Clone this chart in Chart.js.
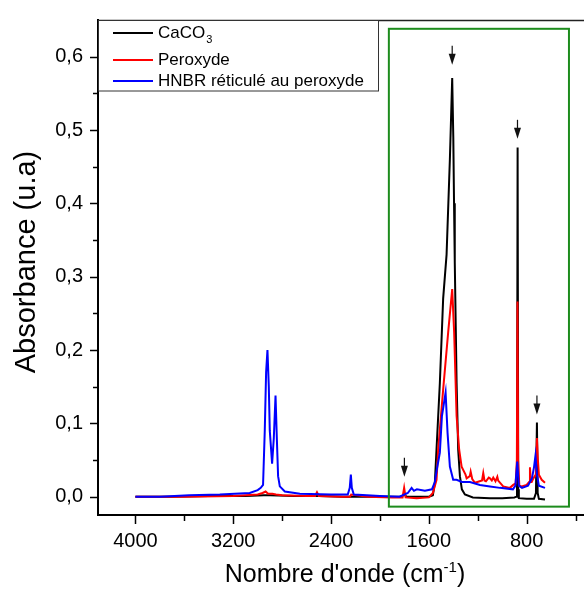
<!DOCTYPE html>
<html>
<head>
<meta charset="utf-8">
<script src="https://cdn.jsdelivr.net/npm/chart.js@4.4.0/dist/chart.umd.min.js"></script>
<style>
  html, body { margin: 0; padding: 0; background: #fff; }
  #wrap { width: 584px; height: 590px; }
</style>
</head>
<body>
<div id="wrap"><canvas id="spectrum" width="584" height="590"></canvas></div>
<script>
// FTIR spectra: wavenumber (cm-1) -> absorbance (u.a)
const seriesNames = ['CaCO3', 'Peroxyde', 'HNBR réticulé au peroxyde'];
const seriesColors = ['#000000', '#ff0000', '#0000ff'];

const caco3Wn = [4000, 3700, 3400, 3100, 2950, 2900, 2700, 2500, 2300, 2100, 1900, 1820, 1802, 1785, 1700, 1600,
  1567, 1551, 1510, 1483, 1455, 1428, 1409, 1400, 1394, 1388, 1373, 1360, 1346, 1330, 1305, 1240, 1100, 1000,
  900, 884, 879, 874, 869, 864, 800, 740, 724, 716, 710, 700, 650];
const caco3Abs = [0.000, 0.000, 0.001, 0.001, 0.002, 0.002, 0.001, 0.001, 0.000, 0.000, 0.000, 0.000, 0.004, 0.000, 0.000, 0.000,
  0.002, 0.019, 0.155, 0.270, 0.330, 0.460, 0.571, 0.490, 0.400, 0.320, 0.155, 0.064, 0.028, 0.010, 0.003, -0.001, -0.002, -0.002,
  -0.001, 0.000, 0.010, 0.476, 0.010, -0.002, -0.003, -0.003, 0.005, 0.101, 0.005, -0.003, -0.004];

const peroxWn = [4000, 3600, 3200, 3000, 2960, 2935, 2915, 2880, 2850, 2800, 2600, 2530, 2515, 2500, 2300, 2245, 2235, 2100,
  1900, 1815, 1802, 1790, 1700, 1600, 1567, 1537, 1524, 1483, 1442, 1409, 1393, 1373, 1352, 1332, 1300, 1291, 1265, 1258,
  1245, 1223, 1165, 1155, 1145, 1133, 1110, 1100, 1085, 1073, 1055, 1040, 1033, 992, 937, 910, 890, 880, 875, 870, 860,
  841, 800, 780, 773, 766, 759, 745, 725, 716, 708, 700, 677, 650];
const peroxAbs = [0.000, 0.000, 0.001, 0.003, 0.005, 0.007, 0.004, 0.004, 0.003, 0.002, 0.001, 0.001, 0.006, 0.001, 0.000, 0.000, 0.003, 0.000,
  -0.001, -0.001, 0.012, -0.001, -0.002, -0.001, 0.005, 0.023, 0.064, 0.146, 0.224, 0.283, 0.224, 0.110, 0.064, 0.041, 0.030, 0.025, 0.028, 0.034,
  0.024, 0.019, 0.022, 0.032, 0.022, 0.021, 0.026, 0.025, 0.022, 0.026, 0.021, 0.027, 0.022, 0.014, 0.012, 0.016, 0.018, 0.050, 0.266, 0.050, 0.015,
  0.014, 0.016, 0.020, 0.040, 0.020, 0.020, 0.025, 0.030, 0.080, 0.050, 0.030, 0.023, 0.019];

const hnbrWn = [4000, 3800, 3560, 3310, 3065, 3000, 2975, 2956, 2942, 2931, 2920, 2909, 2901, 2882, 2868, 2854, 2843, 2833,
  2819, 2778, 2655, 2400, 2263, 2247, 2238, 2230, 2214, 2000, 1840, 1772, 1741, 1722, 1698, 1632, 1575, 1551, 1537, 1510,
  1493, 1463, 1447, 1428, 1401, 1373, 1330, 1264, 1182, 1100, 1018, 912, 892, 877, 864, 838, 789, 757, 740, 728, 716, 700, 650];
const hnbrAbs = [0.000, 0.000, 0.002, 0.003, 0.005, 0.009, 0.012, 0.016, 0.090, 0.170, 0.200, 0.150, 0.090, 0.045, 0.080, 0.138, 0.078, 0.028,
  0.014, 0.007, 0.004, 0.003, 0.003, 0.012, 0.030, 0.012, 0.003, 0.001, 0.000, 0.005, 0.012, 0.008, 0.010, 0.008, 0.010, 0.020, 0.035, 0.060,
  0.110, 0.142, 0.087, 0.041, 0.023, 0.023, 0.020, 0.020, 0.016, 0.014, 0.012, 0.010, 0.015, 0.048, 0.015, 0.012, 0.015, 0.025, 0.040, 0.056, 0.030, 0.015, 0.012];

const xTicks = [4000, 3600, 3200, 2800, 2400, 2000, 1600, 1200, 800, 400];
const xLabels = [4000, 3200, 2400, 1600, 800];
const yTicks = [0, 0.05, 0.1, 0.15, 0.2, 0.25, 0.3, 0.35, 0.4, 0.45, 0.5, 0.55, 0.6];
const yLabels = [0, 0.1, 0.2, 0.3, 0.4, 0.5, 0.6];

// arrows marking the CaCO3 bands (wavenumber, absorbance at the tip)
const arrowWn = [1800, 1409, 875, 716];
const arrowTip = [0.027, 0.589, 0.488, 0.112];
// green zoom frame: wavenumber left/right, absorbance top/bottom
const frameWn = [1927, 454];
const frameAbs = [0.638, -0.0136];

const FONT = "'Liberation Sans', Arial, sans-serif";

const toPoints = (xs, ys) => xs.map((x, i) => ({ x: x, y: ys[i] }));

const drawRuns = (ctx, runs, x, y) => {
  // runs: [text, size, dy] drawn one after another, centred on x
  let total = 0;
  runs.forEach(([t, size]) => { ctx.font = size + 'px ' + FONT; total += ctx.measureText(t).width; });
  let cx = x - total / 2;
  runs.forEach(([t, size, dy]) => {
    ctx.font = size + 'px ' + FONT;
    ctx.fillText(t, cx, y + dy);
    cx += ctx.measureText(t).width;
  });
};

// drop the label-overflow padding chart.js adds, so the plot sits exactly where the layout padding puts it
const noScalePadding = (s) => {
  s.paddingTop = 0;
  s.paddingBottom = 0;
  s.paddingLeft = 0;
  s.paddingRight = 0;
};

const framePlugin = {
  id: 'frame',
  afterDatasetsDraw(chart) {
    const { ctx, chartArea: area, scales: { x, y } } = chart;
    ctx.save();
    ctx.strokeStyle = '#000';
    ctx.fillStyle = '#000';

    // top frame line
    ctx.lineWidth = 1.5;
    ctx.strokeStyle = '#222';
    ctx.beginPath();
    ctx.moveTo(area.left, area.top + 0.5);
    ctx.lineTo(area.right, area.top + 0.5);
    ctx.stroke();

    // outward tick marks
    ctx.strokeStyle = '#000';
    ctx.lineWidth = 1.5;
    xTicks.forEach((v) => {
      const px = Math.round(x.getPixelForValue(v)) + 0.5;
      const len = xLabels.includes(v) ? 9 : 6;
      ctx.beginPath();
      ctx.moveTo(px, area.bottom);
      ctx.lineTo(px, area.bottom + len);
      ctx.stroke();
    });
    yTicks.forEach((v, i) => {
      const py = Math.round(y.getPixelForValue(v)) + 0.5;
      const len = i % 2 === 0 ? 8 : 5;
      ctx.beginPath();
      ctx.moveTo(area.left, py);
      ctx.lineTo(area.left - len, py);
      ctx.stroke();
    });

    // green frame around the CaCO3 bands
    const fx0 = x.getPixelForValue(frameWn[0]);
    const fx1 = x.getPixelForValue(frameWn[1]);
    const fy0 = y.getPixelForValue(frameAbs[0]);
    const fy1 = y.getPixelForValue(frameAbs[1]);
    ctx.strokeStyle = '#1d8c1d';
    ctx.lineWidth = 2;
    ctx.strokeRect(fx0, fy0, fx1 - fx0, fy1 - fy0);

    // arrows
    ctx.fillStyle = '#111';
    ctx.strokeStyle = '#111';
    ctx.lineWidth = 1.2;
    arrowWn.forEach((wn, i) => {
      const px = x.getPixelForValue(wn);
      const tip = y.getPixelForValue(arrowTip[i]);
      ctx.beginPath();
      ctx.moveTo(px, tip - 19);
      ctx.lineTo(px, tip - 10);
      ctx.stroke();
      ctx.beginPath();
      ctx.moveTo(px - 3.5, tip - 11);
      ctx.lineTo(px + 3.5, tip - 11);
      ctx.lineTo(px, tip);
      ctx.closePath();
      ctx.fill();
    });

    // legend box
    ctx.fillStyle = '#fff';
    ctx.fillRect(area.left + 1, area.top + 1, 280, 70);
    ctx.strokeStyle = '#333';
    ctx.lineWidth = 1;
    ctx.strokeRect(area.left + 0.5, area.top + 0.5, 280, 70.5);
    const rows = [33, 60, 81];
    ctx.textBaseline = 'middle';
    ctx.textAlign = 'left';
    seriesNames.forEach((name, i) => {
      ctx.strokeStyle = seriesColors[i];
      ctx.lineWidth = 2;
      ctx.beginPath();
      ctx.moveTo(113, rows[i]);
      ctx.lineTo(153, rows[i]);
      ctx.stroke();
      ctx.fillStyle = '#000';
      const m = name.match(/^(.*?)(\d)$/);
      ctx.font = '17px ' + FONT;
      if (m) {
        ctx.fillText(m[1], 158, rows[i]);
        const w = ctx.measureText(m[1]).width;
        ctx.font = '11px ' + FONT;
        ctx.fillText(m[2], 158 + w + 1, rows[i] + 7);
      } else {
        ctx.fillText(name, 158, rows[i]);
      }
    });

    // axis titles
    ctx.fillStyle = '#000';
    ctx.textAlign = 'left';
    ctx.textBaseline = 'alphabetic';
    drawRuns(ctx, [["Nombre d'onde (cm", 25, 0], ['-1', 15, -10], [')', 25, 0]], 345, 582);
    ctx.save();
    ctx.translate(35, 262);
    ctx.rotate(-Math.PI / 2);
    drawRuns(ctx, [['Absorbance (u.a)', 29, 0]], 0, 0);
    ctx.restore();

    ctx.restore();
  }
};

const ctx = document.getElementById('spectrum').getContext('2d');
new Chart(ctx, {
  type: 'line',
  data: {
    datasets: [
      { label: seriesNames[0], data: toPoints(caco3Wn, caco3Abs), borderColor: seriesColors[0], order: 3 },
      { label: seriesNames[1], data: toPoints(peroxWn, peroxAbs), borderColor: seriesColors[1], order: 2 },
      { label: seriesNames[2], data: toPoints(hnbrWn, hnbrAbs), borderColor: seriesColors[2], order: 1 },
    ],
  },
  options: {
    responsive: false,
    animation: false,
    elements: {
      point: { radius: 0 },
      line: { borderWidth: 2, tension: 0, fill: false },
    },
    layout: { padding: { top: 20, right: 0, bottom: 0, left: 0 } },
    plugins: {
      legend: { display: false },
      tooltip: { enabled: false },
    },
    scales: {
      x: {
        type: 'linear',
        reverse: true,
        min: 331,
        max: 4306,
        afterBuildTicks: (s) => { s.ticks = xTicks.map((v) => ({ value: v })); },
        afterFit: (s) => { s.height = 75; noScalePadding(s); },
        ticks: {
          autoSkip: false,
          maxRotation: 0,
          padding: 14,
          color: '#000',
          font: { family: FONT, size: 20 },
          callback: (v) => (xLabels.includes(v) ? String(v) : ''),
        },
        grid: { drawOnChartArea: false, drawTicks: false },
        border: { color: '#000', width: 2 },
      },
      y: {
        type: 'linear',
        min: -0.025,
        max: 0.65,
        afterBuildTicks: (s) => { s.ticks = yTicks.map((v) => ({ value: v })); },
        afterFit: (s) => { s.width = 98; noScalePadding(s); },
        ticks: {
          autoSkip: false,
          padding: 15,
          color: '#000',
          font: { family: FONT, size: 20 },
          callback: (v) => (yLabels.includes(v) ? v.toFixed(1).replace('.', ',') : ''),
        },
        grid: { drawOnChartArea: false, drawTicks: false },
        border: { color: '#000', width: 2 },
      },
    },
  },
  plugins: [framePlugin],
});
</script>
</body>
</html>
